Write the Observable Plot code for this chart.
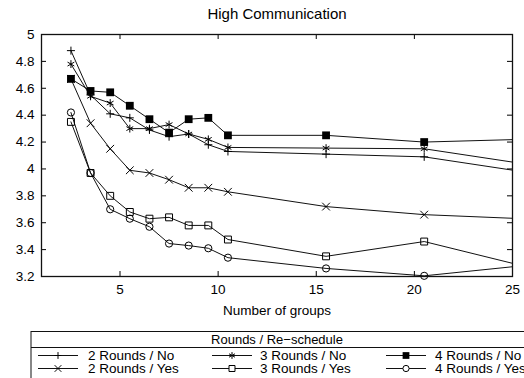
<!DOCTYPE html>
<html>
<head>
<meta charset="utf-8">
<script src="https://cdn.jsdelivr.net/npm/d3@7"></script>
<script src="https://cdn.jsdelivr.net/npm/@observablehq/plot@0.6"></script>
<style>
  html, body { margin: 0; padding: 0; background: #fff; }
  #wrap { position: relative; width: 524px; height: 378px; overflow: hidden; font-family: "Liberation Sans", Arial, Helvetica, sans-serif; }
  #wrap svg { position: absolute; left: 0; top: 0; }
</style>
</head>
<body>
<div id="wrap"></div>
<script>
// ---- data ----
const chartTitle = "High Communication";
const xLabel = "Number of groups";
const legendTitle = "Rounds / Re\u2212schedule";
const xGroups = [2.5, 3.5, 4.5, 5.5, 6.5, 7.5, 8.5, 9.5, 10.5, 15.5, 20.5, 25.5];
const seriesNames = ["2 Rounds / No", "3 Rounds / No", "4 Rounds / No", "2 Rounds / Yes", "3 Rounds / Yes", "4 Rounds / Yes"];
const rounds2No  = [4.88, 4.55, 4.41, 4.38, 4.29, 4.24, 4.26, 4.18, 4.13, 4.11, 4.09, 3.98];
const rounds3No  = [4.78, 4.54, 4.49, 4.30, 4.30, 4.33, 4.26, 4.22, 4.16, 4.155, 4.15, 4.04];
const rounds4No  = [4.67, 4.58, 4.57, 4.47, 4.37, 4.27, 4.37, 4.38, 4.25, 4.25, 4.20, 4.22];
const rounds2Yes = [4.67, 4.34, 4.15, 3.99, 3.97, 3.92, 3.86, 3.86, 3.83, 3.72, 3.66, 3.63];
const rounds3Yes = [4.35, 3.97, 3.80, 3.68, 3.63, 3.64, 3.58, 3.58, 3.475, 3.35, 3.46, 3.28];
const rounds4Yes = [4.42, 3.97, 3.70, 3.63, 3.57, 3.445, 3.43, 3.41, 3.34, 3.26, 3.205, 3.28];
const xTicks = [5, 10, 15, 20, 25];
const yTicks = [3.2, 3.4, 3.6, 3.8, 4, 4.2, 4.4, 4.6, 4.8, 5];
const xDomain = [1, 25];
const yDomain = [3.2, 5];

// ---- styles ----
const seriesValues = [rounds2No, rounds3No, rounds4No, rounds2Yes, rounds3Yes, rounds4Yes];
const styles = [
  {symbol: "plus", r: 2.7, fill: "none", stroke: "#000"},
  {symbol: "asterisk", r: 3.7, fill: "none", stroke: "#000"},
  {symbol: "square", r: 4.4, fill: "#000", stroke: "none"},
  {symbol: "times", r: 3.6, fill: "none", stroke: "#000"},
  {symbol: "square", r: 3.9, fill: "none", stroke: "#000"},
  {symbol: "circle", r: 3.6, fill: "none", stroke: "#000"}
];
const symbolMap = {plus: d3.symbolPlus, asterisk: d3.symbolAsterisk, square: d3.symbolSquare, times: d3.symbolTimes, circle: d3.symbolCircle};

const rows = [];
seriesNames.forEach((name, si) => {
  seriesValues[si].forEach((v, i) => rows.push({series: name, si, x: xGroups[i], y: v}));
});

const W = 524, H = 378;
const mL = 41, mR = 12, mT = 34, mB = 102;
const pw = W - mL - mR, ph = H - mT - mB;
const tick = 5;
const font = "Liberation Sans, Arial, Helvetica, sans-serif";

const marks = [];
seriesNames.forEach((name, si) => {
  const data = rows.filter(d => d.si === si);
  marks.push(Plot.line(data, {x: "x", y: "y", stroke: "#111", strokeWidth: 1, clip: true}));
});
seriesNames.forEach((name, si) => {
  const s = styles[si];
  const data = rows.filter(d => d.si === si && d.x <= xDomain[1]);
  marks.push(Plot.dot(data, {x: "x", y: "y", symbol: () => s.symbol, r: s.r, fill: s.fill, stroke: s.stroke, strokeWidth: 1}));
});

const plot = Plot.plot({
  width: W, height: H,
  marginLeft: mL, marginRight: mR, marginTop: mT, marginBottom: mB,
  style: {fontFamily: font, background: "transparent", color: "#000"},
  x: {domain: xDomain},
  y: {domain: yDomain},
  symbol: {type: "identity"},
  marks: [
    Plot.axisY({ticks: yTicks, tickSize: 0, tickPadding: 7, tickFormat: d => String(d), fontSize: 13.5, label: null}),
    Plot.axisX({ticks: xTicks, tickSize: 0, tickPadding: 8, tickFormat: d => String(d), fontSize: 13.5, label: null}),
    Plot.ruleY(yTicks, {stroke: "#000", insetRight: pw - tick}),
    Plot.ruleY(yTicks, {stroke: "#000", insetLeft: pw - tick}),
    Plot.ruleX(xTicks, {stroke: "#000", insetTop: ph - tick}),
    Plot.ruleX(xTicks, {stroke: "#000", insetBottom: ph - tick}),
    ...marks,
    Plot.frame({stroke: "#111", strokeWidth: 1.3}),
    Plot.text([chartTitle], {frameAnchor: "top", lineAnchor: "middle", dy: -20, text: d => d, fontSize: 15, fill: "#000"}),
    Plot.text([xLabel], {frameAnchor: "bottom", lineAnchor: "middle", dy: 34, text: d => d, fontSize: 13.5, fill: "#000"})
  ]
});
document.getElementById("wrap").appendChild(plot);

// ---- legend ----
const leg = d3.select("#wrap").append("svg").attr("width", W).attr("height", H)
  .style("pointer-events", "none");
const boxX = 31, boxY = 331.5;
leg.append("rect").attr("x", boxX).attr("y", boxY).attr("width", W - boxX + 2).attr("height", 60)
  .attr("fill", "none").attr("stroke", "#111").attr("stroke-width", 1);
leg.append("line").attr("x1", boxX).attr("x2", W + 2).attr("y1", 347.5).attr("y2", 347.5)
  .attr("stroke", "#111").attr("stroke-width", 1);
leg.append("text").attr("x", 277).attr("y", 339.5).attr("text-anchor", "middle").attr("dy", "0.35em")
  .attr("font-family", font).attr("font-size", 13).text(legendTitle);
const colCenters = [58, 232, 406];
const colText = [88, 260, 435];
const rowY = [355.5, 368.5];
const order = [[0, 3], [1, 4], [2, 5]];
order.forEach((col, ci) => {
  col.forEach((si, ri) => {
    const s = styles[si];
    const cx = colCenters[ci], cy = rowY[ri];
    const g = leg.append("g");
    g.append("line").attr("x1", cx - 20).attr("x2", cx + 20).attr("y1", cy).attr("y2", cy)
      .attr("stroke", "#111").attr("stroke-width", 1);
    g.append("path").attr("transform", `translate(${cx},${cy})`)
      .attr("d", d3.symbol(symbolMap[s.symbol], Math.PI * s.r * s.r * 0.75)())
      .attr("fill", s.fill === "none" ? "#fff" : s.fill).attr("stroke", s.stroke).attr("stroke-width", 1);
    g.append("text").attr("x", colText[ci]).attr("y", cy).attr("dy", "0.35em")
      .attr("font-family", font).attr("font-size", 13.5).text(seriesNames[si]);
  });
});
</script>
</body>
</html>
